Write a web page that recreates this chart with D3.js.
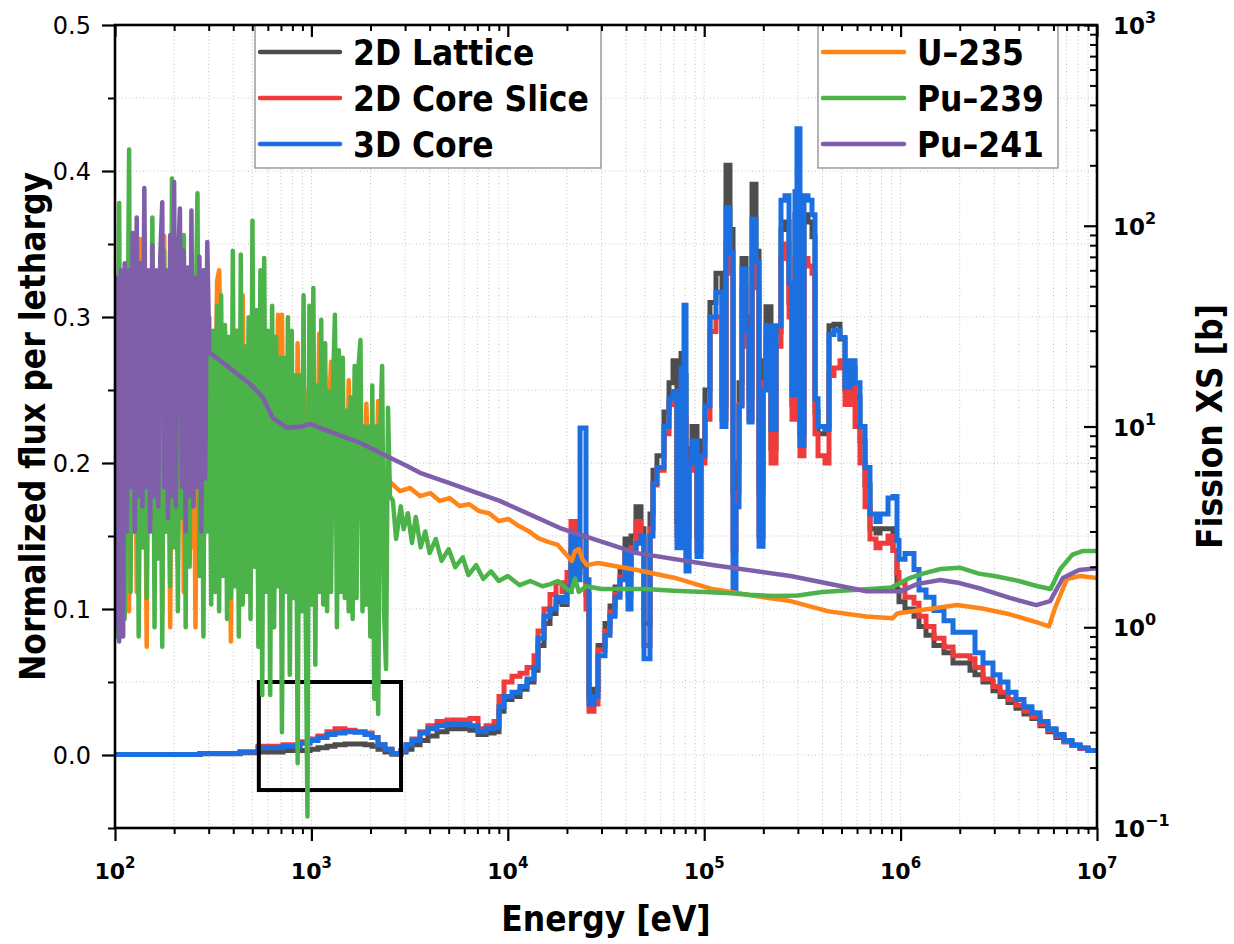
<!DOCTYPE html>
<html><head><meta charset="utf-8">
<script src="https://cdn.jsdelivr.net/npm/d3@7"></script>
<style>
html,body{margin:0;padding:0;background:#fff;}
svg{display:block;}
.ttl{font-family:'DejaVu Sans Condensed','DejaVu Sans',sans-serif;font-stretch:condensed;font-weight:bold;}
.tk{font-family:'DejaVu Sans',sans-serif;}
</style></head>
<body>
<svg id="chart" width="1234" height="944"></svg>
<script>
// ---------------- DATA ----------------
// Flux group boundaries (eV) and per-group normalized flux per lethargy
const fluxE = [100,271,433,535,717,875,984,1080,1200,1319,
1483,1667,1875,2035,2184,2370,2573,2859,3031,3252,
3573,3923,4361,4903,5709,6420,7052,7745,8506,9020,
9566,10505,11538,12526,13597,14250,15290,16400,17600,18880,
20020,20980,22250,23320,25010,25910,27470,28800,31260,33150,
35150,37270,39520,40930,42400,44950,47670,49370,52970,54870,
57510,62430,66210,69380,72690,76200,78920,80800,83690,86690,
91910,96300,100900,107000,114800,123200,129100,135300,140200,145200,
150400,155800,163300,169100,175200,183500,190100,199300,206400,218800,
232100,246000,257800,270300,279900,289900,296800,307400,322200,337800,
353900,366600,379800,412300,432000,458000,491500,521200,552600,586200,
621300,659000,698500,749400,785600,862900,914800,958800,981500,1.053e6,
1.17e6,1.241e6,1.347e6,1.479e6,1.663e6,1.849e6,2.256e6,2.392e6,2.628e6,2.954e6,
3.207e6,3.523e6,3.869e6,4.249e6,4.667e6,5.127e6,5.63e6,6.183e6,6.792e6,7.46e6,
8.193e6,9.0e6,1e7];

const flux3DCore = [0.0003,0.001,0.002,0.005,0.006,0.008,0.010,0.012,0.014,0.015,
0.016,0.0155,0.014,0.012,0.007,0.004,0.001,0.003,0.007,0.010,
0.015,0.018,0.020,0.021,0.021,0.020,0.016,0.018,0.019,0.033,
0.040,0.043,0.047,0.052,0.060,0.080,0.095,0.100,0.108,0.105,
0.115,0.150,0.120,0.224,0.120,0.035,0.040,0.068,0.082,0.095,
0.108,0.120,0.139,0.100,0.139,0.145,0.150,0.066,0.150,0.186,
0.197,0.225,0.244,0.249,0.142,0.265,0.308,0.126,0.200,0.215,
0.136,0.205,0.239,0.300,0.317,0.225,0.375,0.344,0.113,0.170,
0.239,0.333,0.291,0.228,0.367,0.338,0.143,0.250,0.294,0.223,
0.294,0.380,0.383,0.323,0.247,0.386,0.429,0.212,0.383,0.380,
0.370,0.244,0.225,0.223,0.288,0.291,0.286,0.252,0.270,0.255,
0.225,0.197,0.165,0.160,0.165,0.176,0.177,0.147,0.134,0.138,
0.127,0.113,0.108,0.099,0.092,0.084,0.084,0.070,0.063,0.055,
0.050,0.043,0.038,0.033,0.029,0.023,0.018,0.014,0.010,0.007,
0.005,0.003];

const flux2DCoreSlice = [0.0003,0.001,0.002,0.006,0.007,0.009,0.011,0.013,0.016,0.018,
0.017,0.016,0.015,0.012,0.007,0.004,0.001,0.003,0.007,0.011,
0.016,0.020,0.023,0.024,0.024,0.025,0.018,0.020,0.023,0.040,
0.050,0.054,0.056,0.060,0.068,0.085,0.100,0.110,0.118,0.112,
0.125,0.160,0.128,0.150,0.100,0.030,0.035,0.072,0.085,0.098,
0.110,0.122,0.140,0.110,0.142,0.160,0.148,0.075,0.155,0.185,
0.195,0.220,0.240,0.245,0.150,0.255,0.230,0.135,0.195,0.210,
0.140,0.200,0.230,0.290,0.300,0.230,0.350,0.330,0.140,0.180,
0.240,0.320,0.280,0.230,0.340,0.320,0.150,0.255,0.285,0.200,
0.280,0.340,0.350,0.300,0.230,0.340,0.350,0.205,0.340,0.335,
0.330,0.220,0.205,0.200,0.260,0.265,0.270,0.240,0.255,0.225,
0.200,0.170,0.148,0.142,0.145,0.150,0.140,0.125,0.118,0.108,
0.104,0.095,0.088,0.080,0.074,0.068,0.066,0.060,0.052,0.047,
0.043,0.038,0.034,0.030,0.026,0.021,0.017,0.013,0.009,0.0065,
0.0045,0.003];

const flux2DLattice = [0.0003,0.0008,0.0015,0.002,0.003,0.003,0.004,0.005,0.006,0.007,
0.0075,0.0075,0.007,0.006,0.004,0.002,0.0005,0.002,0.004,0.007,
0.010,0.013,0.016,0.018,0.018,0.017,0.014,0.015,0.016,0.030,
0.038,0.040,0.045,0.050,0.058,0.075,0.090,0.097,0.105,0.103,
0.112,0.140,0.125,0.130,0.110,0.040,0.045,0.075,0.090,0.102,
0.115,0.128,0.148,0.125,0.150,0.170,0.155,0.090,0.165,0.195,
0.205,0.235,0.255,0.270,0.160,0.275,0.260,0.150,0.210,0.225,
0.150,0.215,0.250,0.310,0.330,0.240,0.404,0.360,0.180,0.200,
0.255,0.340,0.300,0.245,0.391,0.345,0.180,0.270,0.307,0.210,
0.290,0.360,0.365,0.310,0.240,0.370,0.380,0.220,0.370,0.365,
0.355,0.235,0.220,0.225,0.294,0.295,0.285,0.250,0.265,0.245,
0.215,0.185,0.155,0.152,0.155,0.155,0.140,0.113,0.105,0.100,
0.095,0.088,0.082,0.075,0.070,0.063,0.058,0.055,0.050,0.044,
0.040,0.036,0.032,0.028,0.025,0.020,0.016,0.012,0.009,0.0065,
0.0045,0.003];

// Resolved-resonance energy grid (eV) shared by the fission cross sections
const resE = [100,102,105,107,110,112,115,118,120,123,
126,129,132,135,138,141,145,148,151,155,
159,162,166,170,174,178,182,186,191,195,
200,204,209,214,219,224,229,234,240,245,
251,257,263,269,275,282,288,295,302,309,
316,324,331,339,347,355,363,372,380,389,
398,407,417,427,437,447,457,468,479,490,
501,513,525,537,550,562,575,589,603,617,
631,646,661,676,692,708,724,741,759,776,
794,813,832,851,871,891,912,933,955,977,
1000,1023,1047,1072,1096,1122,1148,1175,1202,1230,
1259,1288,1318,1349,1380,1413,1445,1479,1514,1549,
1585,1622,1660,1698,1738,1778,1820,1862,1905,1950,
1995,2042,2089,2138,2188,2239,2291,2344,2399,2455,
2512];

// U-235 fission XS (b)
const u235ResXS = [52,2,20,0.9,35,3,15,1.2,25,4,
40,1.5,12,86,2.5,30,0.8,18,3,45,
1.8,22,5,60,1.2,89,3,25,1.0,40,
6,15,2,35,67,1.5,20,4,50,2.5,
15,1.0,30,5,45,2,20,8,30,6,
25,10,53,60,20,8,30,5,15,0.85,
25,9,30,6,20,45,7,25,5,30,
10,20,4,25,8,18,3,28,7,15,
3,22,6,36,20,36,5,18,3,20,
7,15,2.5,26,6,12,3,15,5,20,
4,12,6,6,29,14,4,18,6,12,
21,7,7,11,4,14,6,10,3.5,17,
6,6,11,4,10,5,9,4.5,13,6,
9,4,10,5,13.4,8,5.4,6,5.2,5.6,
5.3];
const u235TailE = [2825,3177,3573,4028,4507,5052,5680,6370,7150,8023,
9000,10100,11330,12720,14270,16020,17980,21200,22000,23000,
24000,25300,28800,45400,71000,110000,175000,275000,430000,670000,
910000,960000,1.36e6,1.94e6,2.6e6,3.6e6,4.9e6,5.7e6,6.1e6,7.03e6,
8.18e6,1e7];
const u235TailXS = [4.77,4.94,4.5,4.66,4.26,4.4,4.02,4.1,3.79,3.7,
3.38,3.46,3.2,3.02,2.78,2.66,2.57,2.14,2.4,2.45,
2.18,2.04,2.09,1.93,1.76,1.55,1.44,1.35,1.2,1.13,
1.11,1.17,1.23,1.29,1.24,1.16,1.06,1.01,1.24,1.74,
1.8,1.76];

// Pu-239 fission XS (b)
const pu239ResXS = [42,0.9,130,2.0,25,1.1,8,240,1.5,60,
3.0,45,0.9,20,2.5,70,1.4,35,4,110,
1.0,50,2.2,40,0.8,75,3,30,1.6,172,
2.5,60,1.2,35,3.5,90,1.0,45,2.0,70,
5,30,145,1.8,40,0.9,60,3,35,1.3,
30,1.5,40,1.2,45,1.8,32,1.1,28,1.4,
75,1.6,30,0.9,72,1.3,25,1.5,35,1.1,
106,2,38,0.8,60,0.46,69,1.5,30,0.46,
40,1.0,28,1.6,22,0.3,22,1.5,35,0.58,
30,1.4,18,0.21,18,1.2,45,1.5,0.114,40,
1.3,49,0.65,16,1.5,34,1.3,26,1.2,15,
1.5,16,36,1.0,24,1.5,22,1.4,12,1.2,
14,1.1,20,1.4,20,27,1.2,10,1.3,10,
0.9,16,0.44,10,0.37,9,20,1.2,0.62,12.4,
4.5];
const pu239TailE = [2600,2700,2850,2950,3100,3250,3400,3600,3800,4000,
4300,4600,5000,5400,5900,6300,6900,7500,8200,9000,
10000,11500,13000,15000,16500,18000,20000,21000,22000,23000,
25000,30000,40000,50000,70000,100000,130000,170000,230000,300000,
400000,500000,700000,900000,1.1e6,1.3e6,1.6e6,2.0e6,2.5e6,3.0e6,
4.0e6,5.0e6,5.8e6,6.5e6,7.5e6,8.5e6,1e7];
const pu239TailXS = [4.26,2.75,4.0,3.08,3.7,2.63,3.54,2.5,3.0,2.34,
2.75,2.14,2.45,1.99,2.23,1.82,2.04,1.74,1.9,1.7,
1.8,1.62,1.7,1.6,1.64,1.7,1.55,1.5,1.75,1.5,
1.6,1.55,1.55,1.55,1.52,1.5,1.48,1.45,1.43,1.44,
1.5,1.52,1.55,1.58,1.75,1.85,1.95,1.98,1.85,1.8,
1.7,1.6,1.55,1.95,2.3,2.4,2.4];

// Pu-241 fission XS (b): resonance part on the first 48 grid energies, then smooth
const pu241ResXS = [1.0,55,0.85,60,0.9,65,3,60,5,92,
3,110,4.5,65,4,154,5,60,3,80,
4.5,60,4,70,131,5,60,3.5,90,4.5,
165,4,60,122,5,75,3,62,4.5,119,
4,55,5,70,3,60,5.5,83];
const pu241TailE = [302,343,398,487,567,637,750,874,983,1290,
1767,2427,3069,3573,5052,9100,18450,45400,110000,275000,
670000,1.0e6,1.21e6,1.59e6,2.0e6,2.6e6,3.6e6,4.9e6,5.77e6,6.7e6,
8.1e6,1e7];
const pu241TailXS = [23.4,21.3,19.0,16.3,13.9,11.0,9.85,9.96,10.3,9.3,
8.3,7.1,6.36,5.88,5.23,4.26,3.12,2.34,2.04,1.8,
1.51,1.51,1.64,1.72,1.66,1.55,1.40,1.29,1.35,1.76,
1.93,1.97];

// Highlight box (energy range, flux range)
const boxEnergy = [540, 2860];
const boxFlux = [-0.024, 0.05];

// Axis ticks and labels
const xTickValues = [1e2,1e3,1e4,1e5,1e6,1e7];
const xTickExp = ["2","3","4","5","6","7"];
const yLeftTicks = [0,0.1,0.2,0.3,0.4,0.5];
const yLeftLabels = ["0.0","0.1","0.2","0.3","0.4","0.5"];
const yLeftMinor = [-0.05,0.05,0.15,0.25,0.35,0.45];
const yRightTicks = [0.1,1,10,100,1000];
const yRightExp = ["\u22121","0","1","2","3"];

const fluxSeries = [
  {name:"2D Lattice", color:"#4d4d4d", values:flux2DLattice},
  {name:"2D Core Slice", color:"#ef3b3b", values:flux2DCoreSlice},
  {name:"3D Core", color:"#1b6fe0", values:flux3DCore}
];
const xsSeries = [
  {name:"U\u2013235", color:"#ff8519", e:resE.concat(u235TailE), v:u235ResXS.concat(u235TailXS)},
  {name:"Pu\u2013239", color:"#4cb34a", e:resE.concat(pu239TailE), v:pu239ResXS.concat(pu239TailXS)},
  {name:"Pu\u2013241", color:"#7f5fa9", e:resE.slice(0,pu241ResXS.length).concat(pu241TailE), v:pu241ResXS.concat(pu241TailXS)}
];

// ---------------- CHART ----------------
const svg = d3.select("#chart");
const x = d3.scaleLog().domain([1e2,1e7]).range([115,1097]);
const yL = d3.scaleLinear().domain([-0.05,0.5]).range([828,25]);
const yR = d3.scaleLog().domain([0.1,1000]).range([828,25]);
const X0 = x.range()[0], X1 = x.range()[1], Y0 = yL.range()[0], Y1 = yL.range()[1];

svg.append("defs").append("clipPath").attr("id","clip")
  .append("rect").attr("x",X0).attr("y",Y1).attr("width",X1-X0).attr("height",Y0-Y1);

// grid
const xMinor = [];
for (let d=2; d<7; d++) for (let k=2; k<=9; k++) xMinor.push(k*Math.pow(10,d));
const grid = svg.append("g");
grid.selectAll("line.gx").data(xTickValues.slice(1,-1).concat(xMinor)).join("line")
  .attr("x1",d=>x(d)).attr("x2",d=>x(d)).attr("y1",Y0).attr("y2",Y1)
  .attr("stroke","#c4c4c4").attr("stroke-width",1).attr("stroke-dasharray","1,2.5");
grid.selectAll("line.gy").data(yLeftTicks.slice(0,-1).concat(yLeftMinor.slice(1))).join("line")
  .attr("x1",X0).attr("x2",X1).attr("y1",d=>yL(d)).attr("y2",d=>yL(d))
  .attr("stroke","#c4c4c4").attr("stroke-width",1).attr("stroke-dasharray","1,2.5");

// flux (left axis) step lines
const plot = svg.append("g").attr("clip-path","url(#clip)");
const fluxLine = d3.line().x(d=>x(d[0])).y(d=>yL(d[1])).curve(d3.curveStepAfter);
fluxSeries.forEach(s=>{
  const pts = s.values.map((v,i)=>[fluxE[i],v]);
  pts.push([fluxE[fluxE.length-1], s.values[s.values.length-1]]);
  plot.append("path").datum(pts).attr("d",fluxLine)
    .attr("fill","none").attr("stroke",s.color).attr("stroke-width",5)
    .attr("stroke-linejoin","miter");
});

// box annotation
plot.append("rect")
  .attr("x",x(boxEnergy[0])).attr("y",yL(boxFlux[1]))
  .attr("width",x(boxEnergy[1])-x(boxEnergy[0])).attr("height",yL(boxFlux[0])-yL(boxFlux[1]))
  .attr("fill","none").attr("stroke","#000").attr("stroke-width",4);

// XS (right axis) lines
const xsLine = d3.line().x(d=>x(d[0])).y(d=>yR(d[1]));
xsSeries.forEach(s=>{
  const pts = s.e.map((e,i)=>[e,s.v[i]]);
  plot.append("path").datum(pts).attr("d",xsLine)
    .attr("fill","none").attr("stroke",s.color).attr("stroke-width",4.5)
    .attr("stroke-linejoin","round").attr("stroke-linecap","round");
});

// legends
function legend(series, bx, bw, lx0, lx1, tx){
  const g = svg.append("g");
  g.append("rect").attr("x",bx).attr("y",Y1).attr("width",bw).attr("height",143)
    .attr("fill","#fff").attr("stroke","#8c8c8c").attr("stroke-width",1.3);
  series.forEach((s,i)=>{
    const yy = 52 + i*46;
    g.append("line").attr("x1",lx0).attr("x2",lx1).attr("y1",yy).attr("y2",yy)
      .attr("stroke",s.color).attr("stroke-width",4.5).attr("stroke-linecap","round");
    g.append("text").attr("class","ttl").attr("x",tx).attr("y",yy+13)
      .attr("font-size",35).attr("fill","#000").text(s.name);
  });
}
legend(fluxSeries, 255, 346, 260, 340, 353);
legend(xsSeries, 818, 240, 823, 904, 917);

// axes
function styleAxis(g, w){
  g.select(".domain").remove();
  g.selectAll(".tick line").attr("stroke","#000").attr("stroke-width",w);
  g.selectAll(".tick text").remove();
}
const blank = ()=>"";
styleAxis(svg.append("g").attr("transform",`translate(0,${Y0})`)
  .call(d3.axisBottom(x).tickValues(xTickValues).tickSize(13).tickFormat(blank)),2.2);
styleAxis(svg.append("g").attr("transform",`translate(0,${Y0})`)
  .call(d3.axisBottom(x).tickValues(xMinor).tickSize(6).tickFormat(blank)),2);
styleAxis(svg.append("g").attr("transform",`translate(0,${Y1})`)
  .call(d3.axisBottom(x).tickValues(xTickValues).tickSize(12).tickFormat(blank)),2.2);
styleAxis(svg.append("g").attr("transform",`translate(0,${Y1})`)
  .call(d3.axisBottom(x).tickValues(xMinor).tickSize(6).tickFormat(blank)),2);
styleAxis(svg.append("g").attr("transform",`translate(${X0},0)`)
  .call(d3.axisLeft(yL).tickValues(yLeftTicks).tickSize(13).tickFormat(blank)),2.2);
styleAxis(svg.append("g").attr("transform",`translate(${X0},0)`)
  .call(d3.axisLeft(yL).tickValues(yLeftMinor).tickSize(7).tickFormat(blank)),2);
const yRMinor = [];
for (let d=-1; d<3; d++) for (let k=2; k<=9; k++) yRMinor.push(k*Math.pow(10,d));
styleAxis(svg.append("g").attr("transform",`translate(${X1},0)`)
  .call(d3.axisLeft(yR).tickValues(yRightTicks).tickSize(13).tickFormat(blank)),2.2);
styleAxis(svg.append("g").attr("transform",`translate(${X1},0)`)
  .call(d3.axisLeft(yR).tickValues(yRMinor).tickSize(7).tickFormat(blank)),2);

// frame
svg.append("rect").attr("x",X0).attr("y",Y1).attr("width",X1-X0).attr("height",Y0-Y1)
  .attr("fill","none").attr("stroke","#000").attr("stroke-width",2.6);

// tick labels
svg.append("g").selectAll("text").data(yLeftTicks).join("text")
  .attr("class","tk").attr("x",X0-24).attr("y",d=>yL(d)+9)
  .attr("text-anchor","end").attr("font-size",24).text((d,i)=>yLeftLabels[i]);

const xl = svg.append("g").selectAll("text").data(xTickValues).join("text")
  .attr("class","tk").attr("font-weight","bold").attr("x",d=>x(d)).attr("y",879)
  .attr("text-anchor","middle").attr("font-size",22);
xl.append("tspan").text("10");
xl.append("tspan").attr("dy",-11).attr("font-size",15).text((d,i)=>xTickExp[i]);

const yrl = svg.append("g").selectAll("text").data(yRightTicks).join("text")
  .attr("class","tk").attr("font-weight","bold").attr("x",X1+16).attr("y",d=>yR(d)+9)
  .attr("text-anchor","start").attr("font-size",23);
yrl.append("tspan").text("10");
yrl.append("tspan").attr("dy",-11).attr("font-size",16).text((d,i)=>yRightExp[i]);

// axis titles
svg.append("text").attr("class","ttl").attr("x",(X0+X1)/2).attr("y",931)
  .attr("text-anchor","middle").attr("font-size",35).text("Energy [eV]");
svg.append("text").attr("class","ttl").attr("transform",`translate(45,${(Y0+Y1)/2}) rotate(-90)`)
  .attr("text-anchor","middle").attr("font-size",35).text("Normalized flux per lethargy");
svg.append("text").attr("class","ttl").attr("transform",`translate(1222,${(Y0+Y1)/2}) rotate(-90)`)
  .attr("text-anchor","middle").attr("font-size",35).text("Fission XS [b]");
</script>
</body></html>
